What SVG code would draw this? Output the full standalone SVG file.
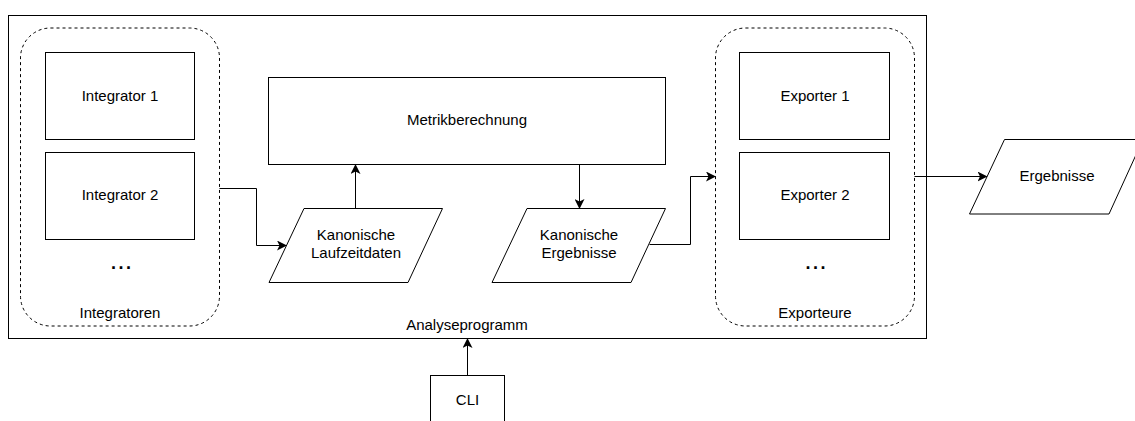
<svg xmlns="http://www.w3.org/2000/svg" width="1135" height="421" viewBox="0 0 1135 421">
<style>
.b{fill:#fff;stroke:#000;stroke-width:1}
.d{fill:none;stroke:#000;stroke-width:1;stroke-dasharray:3 3}
.t{font-family:"Liberation Sans",Arial,sans-serif;font-size:15px;fill:#000;text-anchor:middle}
.dots{font-family:"Liberation Sans",Arial,sans-serif;font-size:18px;font-weight:bold;fill:#000;letter-spacing:2.5px}
.c{fill:none;stroke:#000;stroke-width:1}
</style>
<defs>
<marker id="ar" viewBox="0 0 10 10" refX="9" refY="5" markerWidth="10" markerHeight="10" markerUnits="userSpaceOnUse" orient="auto">
<path d="M0,0 L10,5 L0,10 L2.5,5 Z" fill="#000"/>
</marker>
</defs>
<rect width="1135" height="421" fill="#fff"/>
<g id="analyseprogramm">
<rect class="b" x="8.5" y="15.5" width="918" height="323"/>
<text class="t" x="467" y="329.5">Analyseprogramm</text>
</g>
<g id="integratoren">
<rect class="d" x="20.5" y="28" width="199" height="298" rx="30"/>
<text class="t" x="120" y="317.5">Integratoren</text>
<text class="dots" x="111" y="268.5">...</text>
</g>
<g id="integrator1">
<rect class="b" x="45.5" y="52.5" width="149" height="87"/>
<text class="t" x="120" y="100.5">Integrator 1</text>
</g>
<g id="integrator2">
<rect class="b" x="45.5" y="152.5" width="149" height="87"/>
<text class="t" x="120" y="199.5">Integrator 2</text>
</g>
<g id="metrik">
<rect class="b" x="268.5" y="77.5" width="397" height="87"/>
<text class="t" x="467" y="125">Metrikberechnung</text>
</g>
<g id="laufzeitdaten">
<polygon class="b" points="304,208.5 442.5,208.5 408,282.5 269,282.5"/>
<text class="t" x="356" y="240">Kanonische</text>
<text class="t" x="356" y="257.5">Laufzeitdaten</text>
</g>
<g id="kerg">
<polygon class="b" points="527,208.5 665.5,208.5 631,282.5 492,282.5"/>
<text class="t" x="579" y="240">Kanonische</text>
<text class="t" x="579" y="257.5">Ergebnisse</text>
</g>
<g id="exporteure">
<rect class="d" x="715.5" y="28" width="199" height="298" rx="30"/>
<text class="t" x="815" y="317.5">Exporteure</text>
<text class="dots" x="805.5" y="268.5">...</text>
</g>
<g id="exporter1">
<rect class="b" x="739.5" y="52.5" width="150" height="87"/>
<text class="t" x="815" y="100.5">Exporter 1</text>
</g>
<g id="exporter2">
<rect class="b" x="739.5" y="152.5" width="150" height="87"/>
<text class="t" x="815" y="199.5">Exporter 2</text>
</g>
<g id="ergebnisse">
<polygon class="b" points="1004.5,139.5 1143,139.5 1109,214 969.5,214"/>
<text class="t" x="1057" y="180.5">Ergebnisse</text>
</g>
<g id="cli">
<rect class="b" x="430.5" y="375.5" width="74" height="60"/>
<text class="t" x="467.5" y="404.5">CLI</text>
</g>
<g id="connectors">
<path class="c" d="M219.5,188.5 H256.5 V245.5 H286" marker-end="url(#ar)"/>
<path class="c" d="M355.5,208.5 V165" marker-end="url(#ar)"/>
<path class="c" d="M579.5,164.5 V208" marker-end="url(#ar)"/>
<path class="c" d="M649.5,244.5 H690.5 V176.5 H715" marker-end="url(#ar)"/>
<path class="c" d="M914.5,176.5 H986.5" marker-end="url(#ar)"/>
<path class="c" d="M467.5,375.5 V339" marker-end="url(#ar)"/>
</g>
</svg>
